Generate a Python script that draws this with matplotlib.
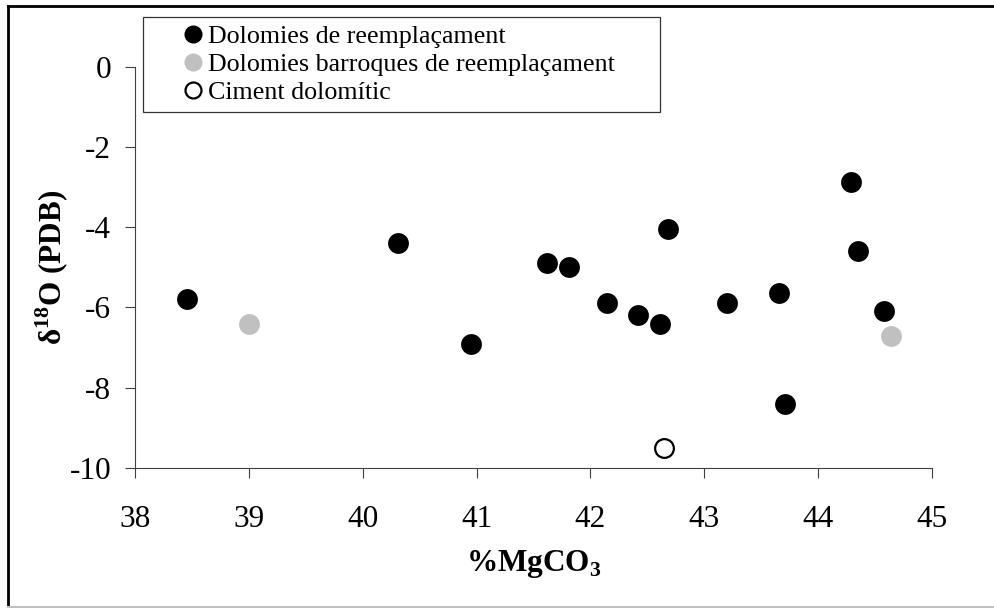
import matplotlib
matplotlib.use("Agg")
import matplotlib.pyplot as plt
from matplotlib.lines import Line2D

plt.rcParams['font.family'] = ['Liberation Serif', 'DejaVu Serif']
plt.rcParams['mathtext.fontset'] = 'custom'
plt.rcParams['mathtext.rm'] = 'Liberation Serif'
plt.rcParams['mathtext.bf'] = 'Liberation Serif:bold'
plt.rcParams['axes.unicode_minus'] = False

# Dolomies de reemplaçament
x_repl = [38.46, 40.31, 40.95, 41.62, 41.81, 42.15, 42.42, 42.61, 42.68,
          43.20, 43.66, 43.71, 44.29, 44.35, 44.58]
y_repl = [-5.8, -4.4, -6.9, -4.9, -5.0, -5.9, -6.2, -6.4, -4.05,
          -5.9, -5.65, -8.4, -2.87, -4.6, -6.1]
# Dolomies barroques de reemplaçament
x_barr = [39.00, 44.64]
y_barr = [-6.4, -6.7]
# Ciment dolomític
x_cim = [42.65]
y_cim = [-9.5]

labels = ["Dolomies de reemplaçament",
          "Dolomies barroques de reemplaçament",
          "Ciment dolomític"]
xticks = [38, 39, 40, 41, 42, 43, 44, 45]
yticks = [0, -2, -4, -6, -8, -10]

fig = plt.figure(figsize=(9.94, 6.08), dpi=100)
ax = fig.add_axes([0.1358, 0.2303, 0.8018, 0.66])

ax.plot(x_repl, y_repl, 'o', color='black', ms=15, mec='none', label=labels[0])
ax.plot(x_barr, y_barr, 'o', color='#c0c0c0', ms=15, mec='none', label=labels[1])
ax.plot(x_cim, y_cim, 'o', mfc='white', mec='black', mew=1.6, ms=13.5, label=labels[2])

ax.set_xlim(38, 45)
ax.set_ylim(-10, 0)
ax.set_xticks(xticks)
ax.set_yticks(yticks)
ax.tick_params(direction='out', length=7, width=0.8, color='#404040', labelsize=22.5)
ax.tick_params(axis='x', pad=20)
ax.tick_params(axis='y', pad=10)
for s in ['top', 'right']:
    ax.spines[s].set_visible(False)
for s in ['left', 'bottom']:
    ax.spines[s].set_color('#404040')
    ax.spines[s].set_linewidth(0.8)

ax.set_xlabel(r'%MgCO$_{\mathbf{3}}$', fontsize=22.5, fontweight='bold', labelpad=10)
ax.set_ylabel(r'δ$^{\mathbf{18}}$O (PDB)', fontsize=22.5, fontweight='bold', labelpad=-1)

leg_handles = [
    Line2D([], [], ls='none', marker='o', color='black', ms=13, mec='none'),
    Line2D([], [], ls='none', marker='o', color='#c0c0c0', ms=13, mec='none'),
    Line2D([], [], ls='none', marker='o', mfc='white', mec='black', mew=1.6, ms=11.5),
]
top = 1 - 16.7 / 608
leg = fig.legend(leg_handles, labels, loc='upper left',
                 bbox_to_anchor=(142.7 / 994, top - 0.3, 517 / 994, 0.3),
                 mode='expand', fontsize=18.7, frameon=True, fancybox=False,
                 edgecolor='black', borderpad=0.3, labelspacing=0.2,
                 handlelength=3.3, handletextpad=-1.1, numpoints=1,
                 borderaxespad=0)
leg.get_frame().set_linewidth(0.9)

# outer chart border
fig.add_artist(Line2D([8 / 994, 8 / 994], [1 - 6 / 608, 1 - 607 / 608],
                      transform=fig.transFigure, color='black', lw=2))
fig.add_artist(Line2D([8 / 994, 1.0], [1 - 6 / 608, 1 - 6 / 608],
                      transform=fig.transFigure, color='black', lw=2))
fig.add_artist(Line2D([8 / 994, 1.0], [1 - 607 / 608, 1 - 607 / 608],
                      transform=fig.transFigure, color='#c0c0c0', lw=1.5))

fig.savefig('out.png', dpi=100)
